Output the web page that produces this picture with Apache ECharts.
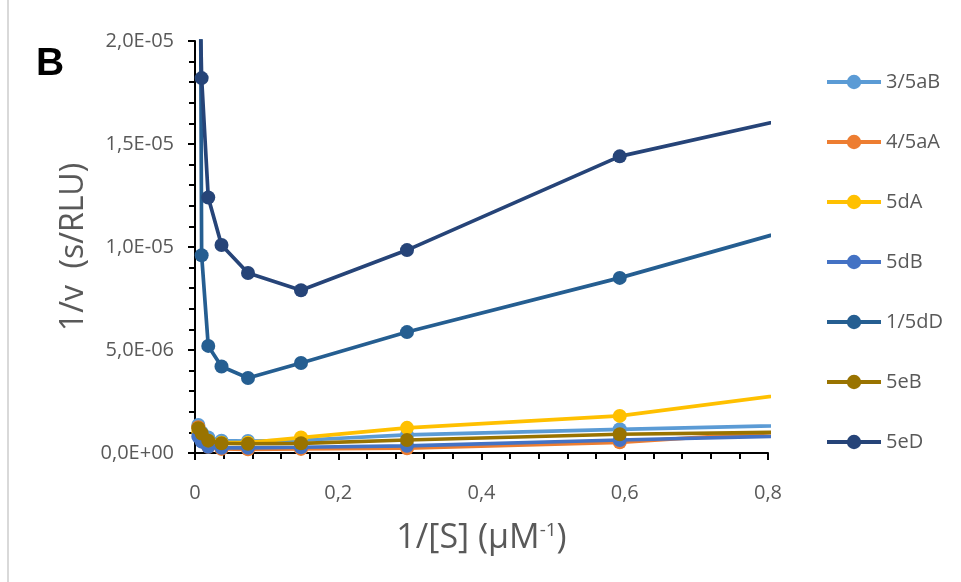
<!DOCTYPE html>
<html>
<head>
<meta charset="utf-8">
<script src="https://cdn.jsdelivr.net/npm/echarts@6/dist/echarts.min.js"></script>
<style>html,body{margin:0;padding:0;background:#fff;}#c{width:961px;height:582px;}</style>
</head>
<body>
<div id="c"></div>
<script>
// 1/[S] values (µM^-1)
const xValues = [0.00463, 0.00926, 0.0185, 0.037, 0.074, 0.148, 0.296, 0.593, 1.185];
const seriesNames = ['3/5aB', '4/5aA', '5dA', '5dB', '1/5dD', '5eB', '5eD'];
// 1/v values (s/RLU)
const s35aB = [1.36e-6, 1.0e-6, 0.75e-6, 0.6e-6, 0.58e-6, 0.62e-6, 0.88e-6, 1.15e-6, 1.61e-6];
const s45aA = [1.25e-6, 0.6e-6, 0.3e-6, 0.2e-6, 0.18e-6, 0.2e-6, 0.23e-6, 0.52e-6, 1.82e-6];
const s5dA  = [1.0e-6, 0.8e-6, 0.6e-6, 0.5e-6, 0.5e-6, 0.75e-6, 1.22e-6, 1.80e-6, 4.46e-6];
const s5dB  = [0.8e-6, 0.55e-6, 0.3e-6, 0.25e-6, 0.25e-6, 0.28e-6, 0.35e-6, 0.63e-6, 1.12e-6];
const s15dD = [50e-6, 9.6e-6, 5.2e-6, 4.2e-6, 3.64e-6, 4.37e-6, 5.87e-6, 8.5e-6, 14.3e-6];
const s5eB  = [1.2e-6, 0.95e-6, 0.6e-6, 0.47e-6, 0.45e-6, 0.47e-6, 0.63e-6, 0.91e-6, 1.17e-6];
const s5eD  = [26e-6, 18.2e-6, 12.4e-6, 10.1e-6, 8.74e-6, 7.9e-6, 9.85e-6, 14.4e-6, 19.0e-6];
const seriesValues = [s35aB, s45aA, s5dA, s5dB, s15dD, s5eB, s5eD];
const colors = ['#5B9BD5', '#ED7D31', '#FFC000', '#4472C4', '#255E91', '#997300', '#264478'];

const FONT = 'Open Sans';
const GRAY = '#595959';

function fmtY(v) {
  if (Math.abs(v) < 1e-15) return '0,0E+00';
  const e = Math.floor(Math.log10(v) + 1e-9);
  const m = v / Math.pow(10, e);
  const es = (e < 0 ? '-' : '+') + String(Math.abs(e)).padStart(2, '0');
  return m.toFixed(1).replace('.', ',') + 'E' + es;
}
function fmtX(v) {
  const r = Math.round(v * 10) / 10;
  return String(r).replace('.', ',');
}

const chart = echarts.init(document.getElementById('c'), null, {renderer: 'canvas'});
chart.setOption({
  animation: false,
  backgroundColor: '#fff',
  color: colors,
  grid: {left: 195, right: 193, top: 41, bottom: 129, containLabel: false},
  xAxis: {
    type: 'value', min: 0, max: 0.8, interval: 0.2,
    axisLine: {show: true, onZero: false, lineStyle: {color: '#000', width: 2}},
    axisTick: {show: true, inside: false, length: 7, lineStyle: {color: '#000', width: 2}},
    minorTick: {show: true, splitNumber: 5, length: 6, lineStyle: {color: '#000', width: 2}},
    splitLine: {show: false},
    axisLabel: {formatter: fmtX, color: GRAY, fontFamily: FONT, fontSize: 20, margin: 30},
    name: '1/[S] (\u03bcM{sup|-1})',
    nameLocation: 'middle', nameGap: 68,
    nameTextStyle: {color: GRAY, fontFamily: FONT, fontSize: 34,
      rich: {sup: {fontSize: 19, color: GRAY, fontFamily: FONT, verticalAlign: 'top', padding: [0, 0, 12, 0]}}}
  },
  yAxis: {
    type: 'value', min: 0, max: 2e-5, interval: 5e-6,
    axisLine: {show: true, lineStyle: {color: '#000', width: 2}},
    axisTick: {show: true, inside: false, length: 7, lineStyle: {color: '#000', width: 2}},
    minorTick: {show: true, splitNumber: 5, length: 6, lineStyle: {color: '#000', width: 2}},
    splitLine: {show: false},
    axisLabel: {formatter: fmtY, color: GRAY, fontFamily: FONT, fontSize: 20, margin: 21},
    name: '1/v  (s/RLU)',
    nameLocation: 'middle', nameGap: 100,
    nameTextStyle: {color: GRAY, fontFamily: FONT, fontSize: 32}
  },
  legend: {
    orient: 'vertical', left: 820, top: 67,
    itemWidth: 54, itemHeight: 18, itemGap: 40,
    lineStyle: {width: 4},
    textStyle: {color: GRAY, fontFamily: FONT, fontSize: 20},
    data: seriesNames
  },
  graphic: [
    {type: 'rect', left: 7, top: 0, shape: {width: 2, height: 582}, style: {fill: '#D9D9D9'}},
    {type: 'text', left: 36, top: 45, style: {text: 'B', fontFamily: 'Liberation Sans', fontWeight: 'bold', fontSize: 39, fill: '#000'}}
  ],
  series: seriesNames.map((name, i) => ({
    name: name,
    type: 'line',
    data: xValues.map((x, j) => [x, seriesValues[i][j]]),
    symbol: 'circle', symbolSize: 14,
    showAllSymbol: true,
    clip: true,
    lineStyle: {width: 3.7, color: colors[i]},
    itemStyle: {color: colors[i]},
    z: 2 + i
  }))
});
</script>
</body>
</html>
